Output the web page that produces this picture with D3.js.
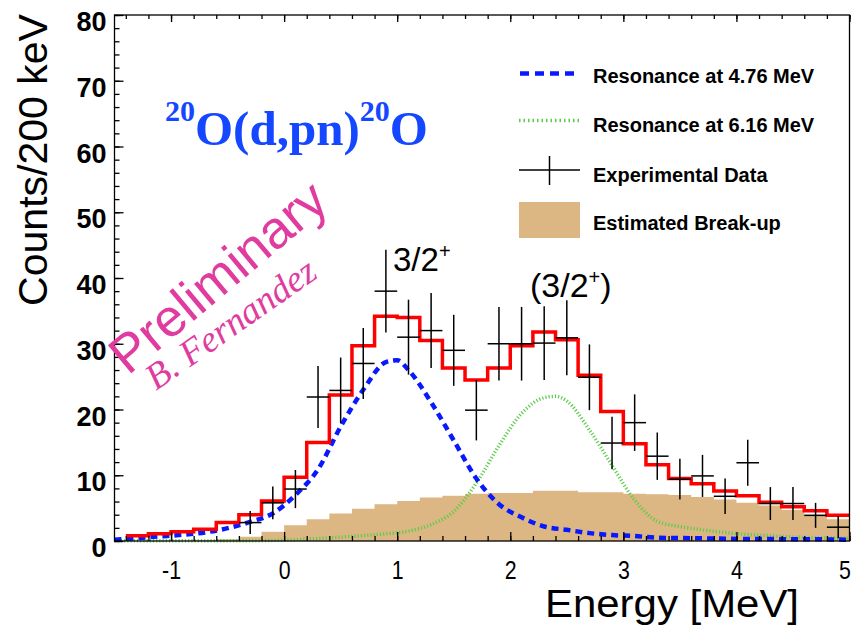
<!DOCTYPE html>
<html lang="en">
  <head>
    <meta charset="utf-8" />
    <title>20O(d,pn)20O energy spectrum</title>
    <script src="https://d3js.org/d3.v7.min.js"></script>
    <style type="text/css">
      body { margin: 0; background: #fff; }
      svg { display: block; }
    </style>
  </head>
  <body>
    <script type="text/javascript">
      // lower edges of the 200 keV bins (MeV)
      const binLow = [-1.4, -1.2, -1.0, -0.8, -0.6, -0.4, -0.2, 0.0, 0.2, 0.4, 0.6, 0.8,
        1.0, 1.2, 1.4, 1.6, 1.8, 2.0, 2.2, 2.4, 2.6, 2.8, 3.0, 3.2, 3.4, 3.6, 3.8, 4.0,
        4.2, 4.4, 4.6, 4.8];
      const binWidth = 0.2;

      // total fit (red histogram)
      const fitCounts = [0.8, 1.1, 1.4, 1.8, 2.8, 4.0, 6.1, 9.7, 15.0, 22.2, 29.7, 34.2,
        34.0, 30.5, 26.3, 24.5, 26.3, 29.7, 31.8, 30.6, 25.2, 19.7, 14.8, 11.6, 9.5, 8.7,
        7.6, 6.9, 5.9, 5.2, 4.6, 3.9];

      // estimated break-up (filled histogram)
      const breakupCounts = [0, 0, 0, 0.1, 0.25, 0.65, 1.4, 2.4, 3.3, 4.2, 4.9, 5.6,
        6.1, 6.6, 6.9, 7.2, 7.3, 7.3, 7.65, 7.65, 7.4, 7.4, 7.2, 7.1, 7.0, 6.7, 6.3, 5.8,
        5.4, 4.7, 4.0, 3.3];

      // experimental data
      const dataE = [-0.3, -0.1, 0.1, 0.3, 0.5, 0.7, 0.9, 1.1, 1.3, 1.5, 1.7, 1.9, 2.1,
        2.3, 2.5, 2.7, 2.9, 3.1, 3.3, 3.5, 3.7, 3.9, 4.1, 4.3, 4.5, 4.7, 4.9];
      const dataCounts = [2.8, 5.8, 7.9, 21.9, 22.9, 27.0, 38.0, 31.0, 32.0, 29.0, 19.9,
        30.0, 30.0, 30.1, 30.9, 24.9, 14.9, 18.0, 12.9, 9.4, 9.9, 6.8, 11.9, 5.7, 5.7,
        3.9, 2.1];
      const dataErr = [1.75, 2.5, 2.9, 4.7, 5.0, 5.4, 6.3, 5.7, 5.7, 5.4, 4.6, 5.6, 5.6,
        5.6, 5.7, 5.0, 4.0, 4.3, 3.6, 3.1, 3.2, 2.7, 3.5, 2.5, 2.5, 1.9, 1.7];

      // resonance at 4.76 MeV (blue dashed)
      const res1E = [-1.5, -1.3, -1.1, -0.9, -0.7, -0.5, -0.3, -0.1, 0.1, 0.3, 0.5, 0.7,
        0.9, 1.0, 1.1, 1.3, 1.5, 1.7, 1.9, 2.1, 2.3, 2.5, 2.7, 2.9, 3.1, 3.3, 3.5, 3.7,
        3.9, 4.1, 4.3, 4.5, 4.7, 5.0];
      const res1Y = [0.2, 0.45, 0.7, 0.95, 1.3, 1.95, 2.9, 4.2, 7.0, 10.9, 17.4, 23.0,
        27.2, 27.5, 26.0, 21.1, 15.3, 9.5, 5.6, 3.6, 2.2, 1.7, 1.2, 0.9, 0.75, 0.5, 0.45,
        0.4, 0.35, 0.3, 0.3, 0.25, 0.25, 0.2];

      // resonance at 6.16 MeV (green dotted)
      const res2E = [-1.5, -0.3, 0.1, 0.5, 0.9, 1.1, 1.3, 1.5, 1.7, 1.9, 2.1, 2.3, 2.4,
        2.5, 2.7, 2.9, 3.1, 3.3, 3.5, 3.7, 3.9, 4.1, 4.3, 4.5, 4.7, 5.0];
      const res2Y = [0.05, 0.05, 0.2, 0.6, 1.1, 1.5, 2.5, 4.5, 8.8, 14.5, 19.4, 21.8,
        22.0, 21.3, 16.9, 11.5, 6.2, 3.0, 2.2, 1.7, 1.3, 1.0, 0.8, 0.6, 0.5, 0.4];

      const yMajor = [0, 10, 20, 30, 40, 50, 60, 70, 80];
      const xMajor = [-1, 0, 1, 2, 3, 4, 5];

      const legendItems = [
        "Resonance at 4.76 MeV",
        "Resonance at 6.16 MeV",
        "Experimental Data",
        "Estimated Break-up",
      ];

      const w = 854;
      const h = 626;
      const sans = "'Liberation Sans', Arial, Helvetica, sans-serif";
      const serif = "'Liberation Serif', 'Times New Roman', serif";

      const xScale = d3.scaleLinear().domain([-1.5, 5]).range([114.5, 849.5]);
      const yScale = d3.scaleLinear().domain([0, 80]).range([541, 15]);

      const svg = d3
        .select("body")
        .append("svg")
        .attr("width", w)
        .attr("height", h);

      svg.append("rect").attr("width", w).attr("height", h).attr("fill", "#fff");

      const plot = svg.append("g");

      //Break-up fill
      const stepPts = function (counts) {
        const pts = binLow.map(function (b, i) {
          return [b, counts[i]];
        });
        pts.push([binLow[binLow.length - 1] + binWidth, counts[counts.length - 1]]);
        return pts;
      };

      plot
        .append("path")
        .datum(stepPts(breakupCounts))
        .attr("fill", "#ddb783")
        .attr(
          "d",
          d3
            .area()
            .curve(d3.curveStepAfter)
            .x(function (d) { return xScale(d[0]); })
            .y0(yScale(0))
            .y1(function (d) { return yScale(d[1]); })
        );

      const smooth = d3
        .line()
        .curve(d3.curveMonotoneX)
        .x(function (d) { return xScale(d[0]); })
        .y(function (d) { return yScale(d[1]); });

      //Resonance curves
      plot
        .append("path")
        .datum(res2E.map(function (e, i) { return [e, res2Y[i]]; }))
        .attr("fill", "none")
        .attr("stroke", "#5ccc4c")
        .attr("stroke-width", 3.5)
        .attr("stroke-dasharray", "1.2,2")
        .attr("d", smooth);

      plot
        .append("path")
        .datum(res1E.map(function (e, i) { return [e, res1Y[i]]; }))
        .attr("fill", "none")
        .attr("stroke", "#0818ff")
        .attr("stroke-width", 4.5)
        .attr("stroke-dasharray", "7,5")
        .attr("d", smooth);

      //Total fit
      plot
        .append("path")
        .datum(stepPts(fitCounts))
        .attr("fill", "none")
        .attr("stroke", "#ff0000")
        .attr("stroke-width", 3.5)
        .attr(
          "d",
          d3
            .line()
            .curve(d3.curveStepAfter)
            .x(function (d) { return xScale(d[0]); })
            .y(function (d) { return yScale(d[1]); })
        );

      //Data crosses
      const pts = plot
        .selectAll("g.pt")
        .data(dataE.map(function (e, i) {
          return { e: e, c: dataCounts[i], err: dataErr[i] };
        }))
        .enter()
        .append("g")
        .attr("class", "pt")
        .attr("stroke", "#000")
        .attr("stroke-width", 1.5);

      pts
        .append("line")
        .attr("x1", function (d) { return xScale(d.e - binWidth / 2); })
        .attr("x2", function (d) { return xScale(d.e + binWidth / 2); })
        .attr("y1", function (d) { return yScale(d.c); })
        .attr("y2", function (d) { return yScale(d.c); });

      pts
        .append("line")
        .attr("x1", function (d) { return xScale(d.e); })
        .attr("x2", function (d) { return xScale(d.e); })
        .attr("y1", function (d) { return yScale(Math.max(0, d.c - d.err)); })
        .attr("y2", function (d) { return yScale(d.c + d.err); });

      //Frame
      svg
        .append("rect")
        .attr("x", xScale(-1.5))
        .attr("y", yScale(80))
        .attr("width", xScale(5) - xScale(-1.5))
        .attr("height", yScale(0) - yScale(80))
        .attr("fill", "none")
        .attr("stroke", "#000")
        .attr("stroke-width", 1.3);

      const styleAxis = function (g) {
        g.select(".domain").remove();
        g.selectAll(".tick line").attr("stroke", "#000").attr("stroke-width", 1.3);
      };

      //Axes
      svg
        .append("g")
        .attr("transform", "translate(" + xScale(-1.5) + ",0)")
        .call(d3.axisLeft(yScale).ticks(40).tickSize(-5).tickFormat(""))
        .call(styleAxis);

      const yAx = svg
        .append("g")
        .attr("transform", "translate(" + xScale(-1.5) + ",0)")
        .call(d3.axisLeft(yScale).tickValues(yMajor).tickSize(-9).tickPadding(8))
        .call(styleAxis);
      yAx
        .selectAll("text")
        .attr("fill", "#000")
        .attr("dy", 15.5)
        .style("font-family", sans)
        .style("font-weight", "bold")
        .style("font-size", "27px");

      svg
        .append("g")
        .attr("transform", "translate(0," + yScale(0) + ")")
        .call(d3.axisBottom(xScale).ticks(32).tickSize(-5).tickFormat(""))
        .call(styleAxis);

      const xAx = svg
        .append("g")
        .attr("transform", "translate(0," + yScale(0) + ")")
        .call(
          d3
            .axisBottom(xScale)
            .tickValues(xMajor)
            .tickSize(-9)
            .tickFormat(function (d) { return String(d); })
        )
        .call(styleAxis);
      xAx
        .selectAll("text")
        .attr("fill", "#000")
        .attr("y", 38)
        .attr("dy", 0)
        .style("font-family", sans)
        .style("font-size", "26px")
        .each(function () {
          const tl = this.getComputedTextLength();
          d3.select(this)
            .attr("textLength", tl * 0.82)
            .attr("lengthAdjust", "spacingAndGlyphs");
        });
      xAx
        .selectAll(".tick")
        .filter(function (d) { return d === 5; })
        .select("text")
        .attr("x", -5);

      svg
        .append("g")
        .attr("transform", "translate(0," + yScale(80) + ")")
        .call(d3.axisTop(xScale).ticks(32).tickSize(-4).tickFormat(""))
        .call(styleAxis);
      svg
        .append("g")
        .attr("transform", "translate(0," + yScale(80) + ")")
        .call(d3.axisTop(xScale).tickValues(xMajor).tickSize(-7).tickFormat(""))
        .call(styleAxis);

      //Axis titles
      svg
        .append("text")
        .attr("transform", "translate(47,160) rotate(-90)")
        .attr("text-anchor", "middle")
        .style("font-family", sans)
        .style("font-size", "41px")
        .text("Counts/200 keV");

      svg
        .append("text")
        .attr("x", 545)
        .attr("y", 617)
        .attr("textLength", 254)
        .attr("lengthAdjust", "spacingAndGlyphs")
        .style("font-family", sans)
        .style("font-size", "38px")
        .text("Energy [MeV]");

      //Reaction title
      const title = svg
        .append("text")
        .attr("x", 165)
        .attr("y", 145)
        .attr("fill", "#1447ff")
        .style("font-family", serif)
        .style("font-weight", "bold")
        .style("font-size", "49px");
      title.append("tspan").attr("dy", -24).style("font-size", "30px").text("20");
      title.append("tspan").attr("dy", 24).text("O(d,pn)");
      title.append("tspan").attr("dy", -24).style("font-size", "30px").text("20");
      title.append("tspan").attr("dy", 24).text("O");

      //Watermark
      svg
        .append("text")
        .attr("transform", "translate(128,376) rotate(-40)")
        .attr("fill", "#e03ca0")
        .style("font-family", sans)
        .style("font-size", "53px")
        .text("Preliminary");

      svg
        .append("text")
        .attr("transform", "translate(156,391) rotate(-35)")
        .attr("fill", "#e03ca0")
        .style("font-family", serif)
        .style("font-style", "italic")
        .style("font-size", "37px")
        .text("B. Fernandez");

      //State labels
      const s1 = svg
        .append("text")
        .attr("x", 393)
        .attr("y", 271)
        .style("font-family", sans)
        .style("font-size", "33px");
      s1.append("tspan").text("3/2");
      s1.append("tspan").attr("dy", -13).style("font-size", "20px").text("+");

      const s2 = svg
        .append("text")
        .attr("x", 530)
        .attr("y", 297)
        .style("font-family", sans)
        .style("font-size", "34px");
      s2.append("tspan").text("(3/2");
      s2.append("tspan").attr("dy", -13).style("font-size", "20px").text("+");
      s2.append("tspan").attr("dy", 13).text(")");

      //Legend
      const legY = [82.5, 131.5, 181.5, 230];
      const legend = svg.append("g");

      legend
        .selectAll("text")
        .data(legendItems)
        .enter()
        .append("text")
        .attr("x", 593)
        .attr("y", function (d, i) { return legY[i]; })
        .style("font-family", sans)
        .style("font-weight", "bold")
        .style("font-size", "20px")
        .text(function (d) { return d; });

      legend
        .append("line")
        .attr("x1", 520).attr("x2", 580)
        .attr("y1", 73.5).attr("y2", 73.5)
        .attr("stroke", "#0818ff")
        .attr("stroke-width", 4.5)
        .attr("stroke-dasharray", "9,6");

      legend
        .append("line")
        .attr("x1", 519).attr("x2", 580)
        .attr("y1", 120.5).attr("y2", 120.5)
        .attr("stroke", "#5ccc4c")
        .attr("stroke-width", 3.5)
        .attr("stroke-dasharray", "1.5,3");

      legend
        .append("line")
        .attr("x1", 519).attr("x2", 580)
        .attr("y1", 170).attr("y2", 170)
        .attr("stroke", "#000")
        .attr("stroke-width", 1.5);
      legend
        .append("line")
        .attr("x1", 549.5).attr("x2", 549.5)
        .attr("y1", 156).attr("y2", 185)
        .attr("stroke", "#000")
        .attr("stroke-width", 1.5);

      legend
        .append("rect")
        .attr("x", 519).attr("y", 202)
        .attr("width", 61).attr("height", 36)
        .attr("fill", "#ddb783");
    </script>
  </body>
</html>
